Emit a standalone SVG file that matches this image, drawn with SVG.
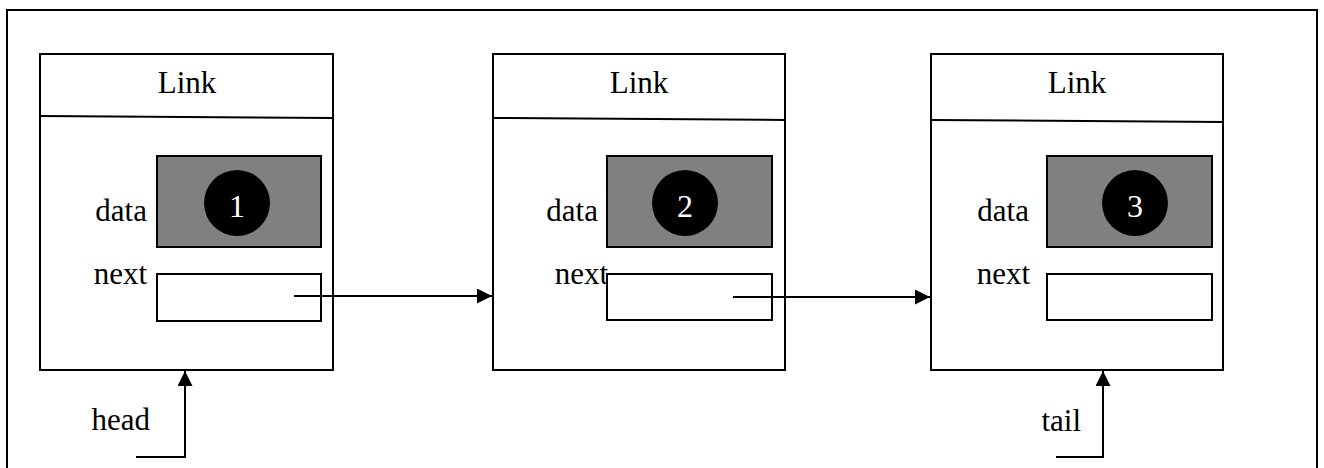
<svg xmlns="http://www.w3.org/2000/svg" width="1324" height="468" viewBox="0 0 1324 468">
<defs>
<marker id="ah" markerWidth="16" markerHeight="16" refX="15" refY="7.5" orient="auto" markerUnits="userSpaceOnUse"><path d="M0,0 L15,7.5 L0,15 Z" fill="#000"/></marker>
<style>
.box{fill:#fff;stroke:#000;stroke-width:2}
.div{stroke:#000;stroke-width:2;fill:none}
.data{fill:#808080;stroke:#000;stroke-width:2}
.nxt{fill:#fff;stroke:#000;stroke-width:2}
.t{font-family:"Liberation Serif","Times New Roman",serif;font-size:31px;fill:#000}
.d{font-family:"Liberation Serif","Times New Roman",serif;font-size:32px;fill:#fff;text-anchor:middle}
.c{stroke:#000;stroke-width:2;fill:none}
</style>
</defs>
<rect width="1324" height="468" fill="#fff"/>
<path d="M7,480 L7,10 L1317,10 L1317,480" fill="none" stroke="#000" stroke-width="2"/>
<g id="node1">
<rect class="box" x="40" y="54" width="293" height="316"/>
<line class="div" x1="40" y1="116" x2="333" y2="118"/>
<text class="t" x="187" y="93" text-anchor="middle">Link</text>
<text class="t" x="147" y="221" text-anchor="end">data</text>
<text class="t" x="147" y="284" text-anchor="end">next</text>
<rect class="data" x="157" y="156" width="164" height="91"/>
<circle cx="237" cy="203" r="33" fill="#000"/>
<text class="d" x="237" y="217">1</text>
<rect class="nxt" x="157" y="274" width="164" height="47"/>
</g>
<g id="node2">
<rect class="box" x="493" y="54" width="292" height="316"/>
<line class="div" x1="493" y1="118" x2="785" y2="120"/>
<text class="t" x="639" y="93" text-anchor="middle">Link</text>
<text class="t" x="598" y="221" text-anchor="end">data</text>
<text class="t" x="608" y="284" text-anchor="end">next</text>
<rect class="data" x="607" y="156" width="165" height="91"/>
<circle cx="685" cy="203" r="33" fill="#000"/>
<text class="d" x="685" y="217">2</text>
<rect class="nxt" x="607" y="274" width="165" height="46"/>
</g>
<g id="node3">
<rect class="box" x="931" y="54" width="292" height="316"/>
<line class="div" x1="931" y1="120" x2="1223" y2="122"/>
<text class="t" x="1077" y="93" text-anchor="middle">Link</text>
<text class="t" x="1029" y="221" text-anchor="end">data</text>
<text class="t" x="1030" y="284" text-anchor="end">next</text>
<rect class="data" x="1047" y="156" width="165" height="91"/>
<circle cx="1135" cy="203" r="33" fill="#000"/>
<text class="d" x="1135" y="217">3</text>
<rect class="nxt" x="1047" y="274" width="165" height="46"/>
</g>
<g id="head">
<text class="t" x="150" y="430" text-anchor="end">head</text>
</g>
<g id="tail">
<text class="t" x="1081" y="431" text-anchor="end">tail</text>
</g>
<g id="connectors">
<line class="c" x1="294" y1="296" x2="492" y2="296" marker-end="url(#ah)"/>
<line class="c" x1="733" y1="297" x2="930" y2="297" marker-end="url(#ah)"/>
<polyline class="c" points="136,457 185,457 185,371" marker-end="url(#ah)"/>
<polyline class="c" points="1056,457 1103,457 1103,371" marker-end="url(#ah)"/>
</g>
</svg>
